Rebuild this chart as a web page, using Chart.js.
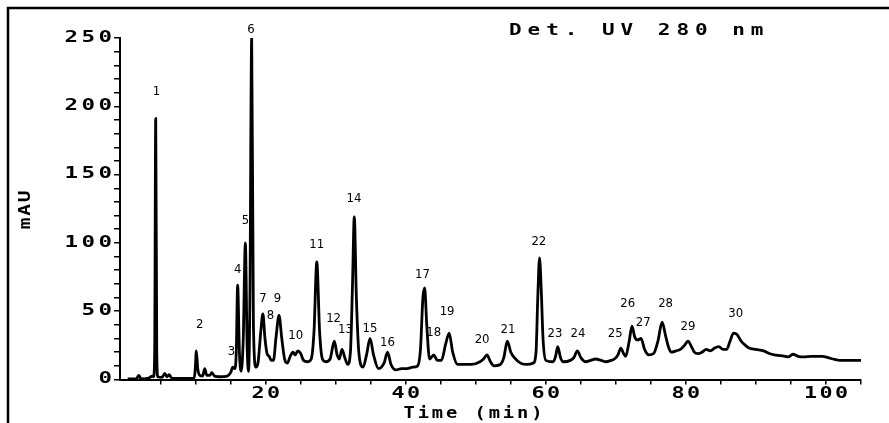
<!DOCTYPE html>
<html>
<head>
<meta charset="utf-8">
<script src="https://cdn.jsdelivr.net/npm/chart.js@4.4.1/dist/chart.umd.min.js"></script>
<style>
  html, body { margin: 0; padding: 0; background: #fff; }
  canvas { display: block; }
</style>
</head>
<body>
<canvas id="chrom" width="889" height="423"></canvas>
<script>
// trace: time (min) and absorbance (mAU)
var timeMin = [0.3, 1.5, 1.9, 2.2, 3.3, 3.8, 4.0, 4.15, 4.3, 4.45, 4.6, 5.2, 5.6, 5.9, 6.2, 6.6, 8.0,
  9.8, 9.95, 10.1, 10.3, 10.6, 11.0, 11.3, 11.6, 12.0, 12.3, 12.7, 13.5, 14.5, 15.0, 15.3, 15.6,
  15.8, 16.0, 16.25, 16.5, 16.8, 17.1, 17.35, 17.55, 17.75, 18.0, 18.25, 18.6, 18.9, 19.3, 19.6,
  19.9, 20.2, 20.5, 20.8, 21.1, 21.5, 21.9, 22.3, 22.7, 23.1, 23.5, 23.9, 24.2, 24.6, 25.0, 25.4,
  26.0, 26.5, 26.9, 27.3, 27.7, 28.1, 28.6, 29.2, 29.8, 30.2, 30.5, 30.9, 31.3, 31.7, 32.1, 32.4,
  32.65, 32.95, 33.3, 33.9, 34.4, 34.9, 35.4, 36.1, 36.9, 37.4, 37.9, 38.6, 39.4, 40.2, 41.0, 41.7,
  42.1, 42.45, 42.7, 43.0, 43.4, 44.0, 44.5, 45.1, 45.7, 46.2, 46.7, 47.4, 48.4, 49.4, 50.6, 51.1,
  51.6, 52.1, 52.6, 53.5, 54.0, 54.5, 55.0, 55.5, 56.4, 57.3, 58.2, 58.6, 58.85, 59.1, 59.35, 59.6,
  60.0, 61.0, 61.4, 61.7, 62.1, 62.5, 63.5, 64.0, 64.5, 65.0, 65.7, 66.4, 67.1, 67.9, 68.6, 69.3,
  69.8, 70.3, 70.7, 71.1, 71.4, 71.9, 72.3, 72.7, 73.1, 73.6, 74.1, 74.7, 75.4, 76.0, 76.6, 77.1,
  77.5, 77.9, 78.6, 79.2, 79.8, 80.3, 80.8, 81.2, 81.7, 82.3, 82.9, 83.5, 84.1, 84.7, 85.3, 85.8,
  86.3, 86.8, 87.3, 87.9, 88.5, 89.0, 90.0, 91.1, 91.9, 92.6, 93.6, 94.6, 95.3, 96.0, 96.8, 97.9,
  99.5, 100.3, 101.0, 102.0, 103.5, 105.0];
var mAU = [0.5, 0.5, 3, 0.5, 1, 2.5, 2, 20, 191, 20, 2, 1.5, 4.5, 2, 3.5, 1, 0.8,
  1, 8, 21, 8, 3, 2.5, 8, 3, 3, 5, 2.5, 2, 2.5, 5, 9, 8,
  20, 69, 20, 6, 30, 100, 25, 6, 60, 250, 40, 9, 12, 35, 48,
  30, 19, 17, 14, 14, 32, 47, 30, 15, 12, 17, 20, 18, 21, 19, 14,
  13, 15, 35, 86, 35, 15, 13, 15, 28, 18, 15, 22, 16, 11, 20, 70,
  119, 60, 20, 9, 18, 30, 18, 8, 12, 20, 11, 7, 8, 8, 9, 10,
  22, 60, 67, 40, 15, 18, 14, 14, 26, 34, 20, 11, 11, 11, 13, 15,
  18, 13, 10, 11, 16, 28, 20, 16, 12, 11, 12, 20, 60, 89, 65, 30,
  14, 13, 17, 24, 16, 13, 14, 16, 21, 16, 13, 14, 15, 14, 13, 14,
  15, 18, 23, 19, 17, 28, 39, 31, 29, 30, 22, 18, 19, 28, 42, 32,
  24, 20, 21, 22, 25, 28, 24, 20, 19, 20, 22, 21, 23, 24, 22, 22,
  28, 34, 33, 28, 25, 23, 22, 21, 19, 18, 17.5, 16.5, 18.5, 17, 16.5, 17,
  17, 16, 15, 14, 14, 14];

// peak numbers and where their labels sit (time, mAU)
var peakNo = ['1', '2', '3', '4', '5', '6', '7', '8', '9', '10', '11', '12', '13', '14', '15',
  '16', '17', '18', '19', '20', '21', '22', '23', '24', '25', '26', '27', '28', '29', '30'];
var labelTime = [4.4, 10.6, 15.1, 16.0, 17.1, 17.9, 19.6, 20.7, 21.7, 24.3, 27.3, 29.7, 31.4, 32.6, 34.9,
  37.4, 42.4, 44.0, 45.9, 50.9, 54.6, 59.0, 61.3, 64.6, 69.9, 71.7, 73.9, 77.1, 80.3, 87.1];
var labelMAU = [211, 40, 20.5, 80.6, 116.5, 256, 59.3, 46.9, 59.3, 32.2, 98.9, 44.7, 36.6, 132.6, 37.4,
  27.1, 76.9, 34.4, 49.8, 29.3, 36.6, 101.1, 33.7, 33.7, 33.7, 55.7, 41.8, 55.7, 38.8, 48.4];

var yLabelStep = 50;
var xLabelStep = 20;
var monoFont = 'DejaVu Sans Mono';

var points = [];
for (var i = 0; i < timeMin.length; i++) {
  points.push({x: timeMin[i], y: mAU[i]});
}

// plotter style text: monospace glyphs stretched sideways, fixed advance
function wideText(c, text, x, y, align, sx, adv) {
  var n = text.length;
  var glyphW = 9 * sx;
  var first;
  if (align === 'right') first = x - glyphW / 2 - (n - 1) * adv;
  else if (align === 'left') first = x + glyphW / 2;
  else first = x - (n - 1) * adv / 2;
  for (var i = 0; i < n; i++) {
    if (text[i] === ' ') continue;
    c.save();
    c.translate(first + i * adv, y);
    c.scale(sx, 1);
    c.fillText(text[i], 0, 0);
    c.restore();
  }
}

var frame = {
  id: 'frame',
  beforeDraw: function(chart) {
    var c = chart.ctx;
    c.save();
    c.fillStyle = '#fff';
    c.fillRect(0, 0, chart.width, chart.height);
    c.strokeStyle = '#000';
    c.lineWidth = 2.5;
    c.beginPath();
    c.moveTo(8, 423);
    c.lineTo(8, 8);
    c.lineTo(889, 8);
    c.stroke();
    c.restore();
  },
  afterDatasetsDraw: function(chart) {
    var c = chart.ctx;
    var xs = chart.scales.x, ys = chart.scales.y;
    c.save();
    c.fillStyle = '#000';
    c.font = '13px "DejaVu Sans Condensed"';
    c.textAlign = 'center';
    c.textBaseline = 'middle';
    for (var i = 0; i < peakNo.length; i++) {
      c.fillText(peakNo[i], xs.getPixelForValue(labelTime[i]), ys.getPixelForValue(labelMAU[i]));
    }
    c.restore();
  },
  afterDraw: function(chart) {
    var c = chart.ctx;
    var xs = chart.scales.x, ys = chart.scales.y;
    c.save();
    c.fillStyle = '#000';
    c.font = 'bold 15px "' + monoFont + '"';
    c.textBaseline = 'middle';
    c.textAlign = 'center';
    // tick labels
    ys.ticks.forEach(function(t) {
      if (t.value % yLabelStep === 0) {
        wideText(c, String(t.value), 112, ys.getPixelForValue(t.value), 'right', 1.5, 17);
      }
    });
    xs.ticks.forEach(function(t) {
      if (t.value % xLabelStep === 0 && t.value > 0) {
        wideText(c, String(t.value), xs.getPixelForValue(t.value), 394, 'center', 1.45, 15.5);
      }
    });
    // titles
    wideText(c, 'Det. UV 280 nm', 509, 31, 'left', 1.4, 18.6);
    wideText(c, 'Time (min)', 473, 414, 'center', 1.25, 14.2);
    c.translate(26, 210);
    c.rotate(-Math.PI / 2);
    wideText(c, 'mAU', 0, 0, 'center', 1.3, 13.5);
    c.restore();
  }
};

new Chart(document.getElementById('chrom'), {
  type: 'line',
  data: {
    datasets: [{
      data: points,
      borderColor: '#000',
      borderWidth: 2.8,
      pointRadius: 0,
      fill: false,
      cubicInterpolationMode: 'monotone'
    }]
  },
  options: {
    responsive: false,
    animation: false,
    layout: { padding: { left: 0, top: 38, right: 28, bottom: 0 } },
    plugins: { legend: { display: false }, tooltip: { enabled: false } },
    scales: {
      x: {
        type: 'linear',
        min: -0.8,
        max: 105,
        afterFit: function(s) { s.height = 43.5; },
        ticks: { stepSize: 5, autoSkip: false, maxRotation: 0, display: false },
        afterBuildTicks: function(s) {
          s.ticks = s.ticks.filter(function(t) { return t.value >= 0 && t.value % 5 === 0; });
        },
        grid: { drawOnChartArea: false, drawTicks: true, tickLength: 5, color: '#000', lineWidth: 1.5 },
        border: { color: '#000', width: 2 }
      },
      y: {
        min: 0,
        max: 250,
        afterFit: function(s) { s.width = 120; },
        ticks: { stepSize: 10, autoSkip: false, display: false },
        grid: { drawOnChartArea: false, drawTicks: true, tickLength: 6, color: '#000', lineWidth: 1.5 },
        border: { color: '#000', width: 2 }
      }
    }
  },
  plugins: [frame]
});
</script>
</body>
</html>
